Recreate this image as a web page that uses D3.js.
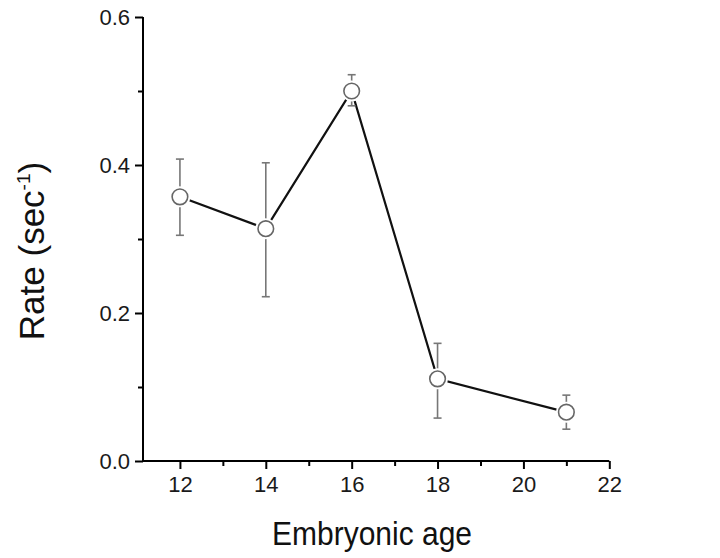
<!DOCTYPE html>
<html>
<head>
<meta charset="utf-8">
<script src="https://cdn.jsdelivr.net/npm/d3@7"></script>
<style>
  html, body { margin: 0; padding: 0; background: #fff; }
  svg { display: block; font-family: "Liberation Sans", Arial, sans-serif; }
</style>
</head>
<body>
<svg id="chart" width="720" height="558"></svg>
<script>
// embryonic age vs rate, mean with error bars
const AGES  = [12, 14, 16, 18, 21];
const RATES = [0.357, 0.314, 0.500, 0.111, 0.066];
const ERR_HI = [0.408, 0.403, 0.522, 0.159, 0.089];
const ERR_LO = [0.305, 0.222, 0.480, 0.058, 0.043];

const X_TICKS = [12, 14, 16, 18, 20, 22];
const X_MINOR = [13, 15, 17, 19, 21];
const Y_TICKS = [0, 0.2, 0.4, 0.6];
const Y_MINOR = [0.1, 0.3, 0.5];

const svg = d3.select('#chart');
const x = d3.scaleLinear().domain([11.14, 22]).range([143, 609.3]);
const y = d3.scaleLinear().domain([0, 0.6]).range([461, 17]);

const pts = AGES.map((a, i) => ({ a, r: RATES[i], hi: ERR_HI[i], lo: ERR_LO[i] }));

// --- axes (major with labels, minor without) ---
const xAxis = svg.append('g').attr('transform', `translate(0,${y(0)})`)
  .call(d3.axisBottom(x).tickValues(X_TICKS).tickSize(8).tickPadding(7).tickFormat(d3.format('d')));
const xMinor = svg.append('g').attr('transform', `translate(0,${y(0)})`)
  .call(d3.axisBottom(x).tickValues(X_MINOR).tickSize(5).tickFormat(''));

const yAxis = svg.append('g').attr('transform', `translate(${x(11.14)},0)`)
  .call(d3.axisLeft(y).tickValues(Y_TICKS).tickSize(8).tickPadding(5).tickFormat(d3.format('.1f')));
const yMinor = svg.append('g').attr('transform', `translate(${x(11.14)},0)`)
  .call(d3.axisLeft(y).tickValues(Y_MINOR).tickSize(5).tickFormat(''));

xMinor.select('.domain').remove();
yMinor.select('.domain').remove();
xAxis.select('.domain').attr('d', `M${x(11.14)},0H${x(22)}`);
yAxis.select('.domain').attr('d', `M0,${y(0.6)}V${y(0)}`);
svg.selectAll('.domain').attr('stroke', '#000').attr('stroke-width', 2);
svg.selectAll('.tick line').attr('stroke', '#000').attr('stroke-width', 2);
svg.selectAll('.tick text').attr('fill', '#1a1a1a').style('font-size', '22px');

// --- connecting line ---
svg.append('path')
  .datum(pts)
  .attr('fill', 'none')
  .attr('stroke', '#111')
  .attr('stroke-width', 2.2)
  .attr('d', d3.line().x(d => x(d.a)).y(d => y(d.r)));

// --- error bars ---
const eb = svg.append('g').attr('stroke', '#777').attr('stroke-width', 1.6);
eb.selectAll('line.v').data(pts).join('line')
  .attr('x1', d => x(d.a)).attr('x2', d => x(d.a))
  .attr('y1', d => y(d.hi)).attr('y2', d => y(d.lo));
eb.selectAll('line.hi').data(pts).join('line')
  .attr('x1', d => x(d.a) - 4).attr('x2', d => x(d.a) + 4)
  .attr('y1', d => y(d.hi)).attr('y2', d => y(d.hi));
eb.selectAll('line.lo').data(pts).join('line')
  .attr('x1', d => x(d.a) - 4).attr('x2', d => x(d.a) + 4)
  .attr('y1', d => y(d.lo)).attr('y2', d => y(d.lo));

// --- markers (white halo gives the small gap round each circle) ---
svg.append('g').selectAll('circle').data(pts).join('circle')
  .attr('cx', d => x(d.a)).attr('cy', d => y(d.r)).attr('r', 10.5)
  .attr('fill', '#fff');
svg.append('g').selectAll('circle').data(pts).join('circle')
  .attr('cx', d => x(d.a)).attr('cy', d => y(d.r)).attr('r', 7.8)
  .attr('fill', '#fff').attr('stroke', '#666').attr('stroke-width', 1.6);

// --- axis titles ---
svg.append('text')
  .attr('transform', 'translate(372,545) scale(1,1.1)')
  .attr('text-anchor', 'middle')
  .style('font-size', '30px').attr('fill', '#111')
  .text('Embryonic age');

const yt = svg.append('text')
  .attr('transform', 'translate(44,251) rotate(-90)')
  .attr('text-anchor', 'middle')
  .style('font-size', '35px').attr('fill', '#111');
yt.append('tspan').text('Rate (sec');
yt.append('tspan').attr('dy', -14).style('font-size', '19px').text('-1');
yt.append('tspan').attr('dy', 14).text(')');
</script>
</body>
</html>
